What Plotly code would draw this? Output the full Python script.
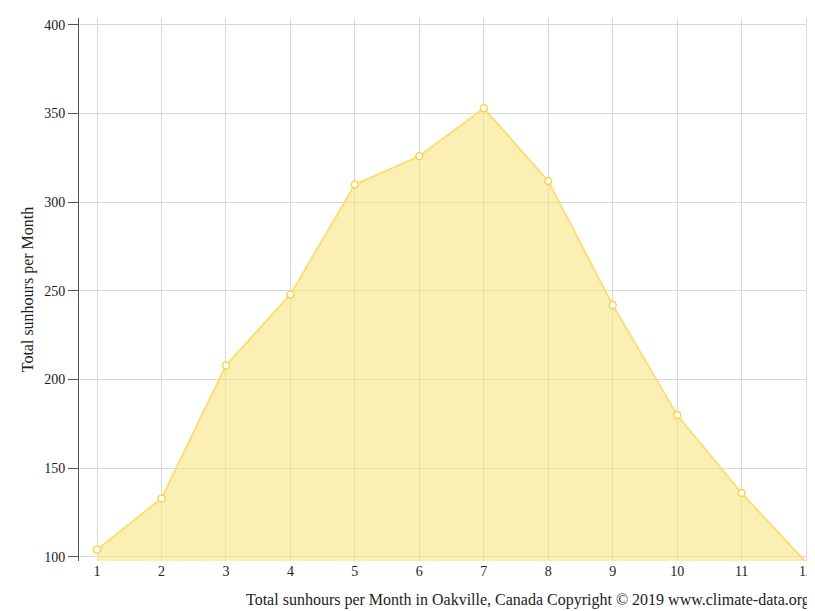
import plotly.graph_objects as go

months = list(range(1, 13))
sunhours = [104, 133, 208, 248, 310, 326, 353, 312, 242, 180, 136, 97]

fig = go.Figure()
fig.add_trace(go.Scatter(
    x=months, y=sunhours, mode="lines+markers", fill="tozeroy",
    line=dict(color="rgba(250,220,110,0.9)", width=2),
    fillcolor="rgba(248,228,130,0.6)",
    marker=dict(size=7, color="white", line=dict(color="#f5d54e", width=1.5)),
    cliponaxis=False, showlegend=False))

fig.update_layout(
    width=815, height=611, plot_bgcolor="white", paper_bgcolor="white",
    margin=dict(l=71, r=15, t=10, b=58),
    font=dict(family="Liberation Serif", size=14, color="#222"),
    xaxis=dict(range=[0.72, 12.03], tickvals=months, showgrid=True, gridcolor="#d8d8d8",
               zeroline=False, ticks="", automargin=False),
    yaxis=dict(range=[97.7, 403.9], tickvals=[100, 150, 200, 250, 300, 350, 400],
               showgrid=True, gridcolor="#d8d8d8", zeroline=False, automargin=False,
               showline=True, linecolor="#555", ticks="outside", ticklen=10, tickcolor="#555",
               title=dict(text="Total sunhours per Month", font=dict(size=16), standoff=6)),
    annotations=[dict(
        text="Total sunhours per Month in Oakville, Canada Copyright © 2019 www.climate-data.org",
        xref="paper", yref="paper", x=1.005, y=0, xanchor="right", yanchor="top",
        yshift=-28, showarrow=False, font=dict(size=16))],
)
fig.write_html("out.html")
